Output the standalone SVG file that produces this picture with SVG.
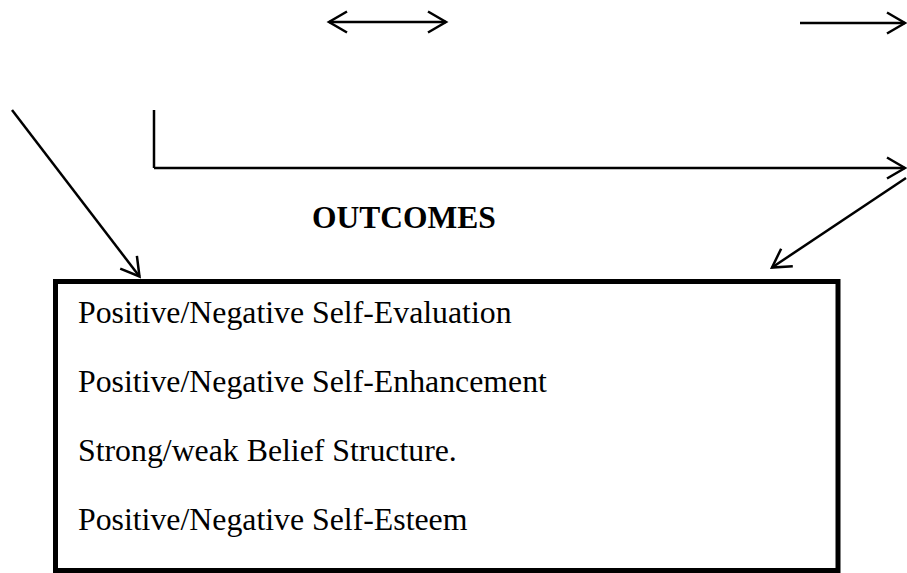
<svg xmlns="http://www.w3.org/2000/svg" width="907" height="573" viewBox="0 0 907 573">
<style>
.ln{stroke:#000;stroke-width:2.5;fill:none}
.arr{marker-end:url(#head)}
.txt{font-family:"Liberation Serif","Times New Roman",serif;font-size:31.8px;fill:#000}
.ttl{font-family:"Liberation Serif","Times New Roman",serif;font-size:31.5px;font-weight:bold;fill:#000}
</style>
<defs>
<marker id="head" markerUnits="userSpaceOnUse" markerWidth="30" markerHeight="30" viewBox="-25 -15 30 30" refX="0" refY="0" orient="auto-start-reverse" overflow="visible">
<path d="M-18,-10.5 L0,0 L-18,10.5" fill="none" stroke="#000" stroke-width="2.5"/>
</marker>
</defs>
<rect width="907" height="573" fill="#fff"/>
<g id="connectors">
<line class="ln" x1="329" y1="22" x2="446" y2="22" marker-start="url(#head)" marker-end="url(#head)"/>
<line class="ln arr" x1="800" y1="23" x2="905" y2="23"/>
<polyline class="ln" points="154,110 154,168"/>
<line class="ln arr" x1="154" y1="168" x2="905" y2="168"/>
<line class="ln arr" x1="906" y1="178" x2="772" y2="267.5"/>
<line class="ln arr" x1="12" y1="110" x2="139.5" y2="276.5"/>
</g>
<g id="title">
<text class="ttl" x="312" y="228">OUTCOMES</text>
</g>
<g id="outcomes">
<rect x="55.5" y="281.5" width="782.5" height="289" fill="none" stroke="#000" stroke-width="5"/>
<text class="txt" x="78" y="323">Positive/Negative Self-Evaluation</text>
<text class="txt" x="78" y="392">Positive/Negative Self-Enhancement</text>
<text class="txt" x="78" y="461">Strong/weak Belief Structure.</text>
<text class="txt" x="78" y="530">Positive/Negative Self-Esteem</text>
</g>
</svg>
